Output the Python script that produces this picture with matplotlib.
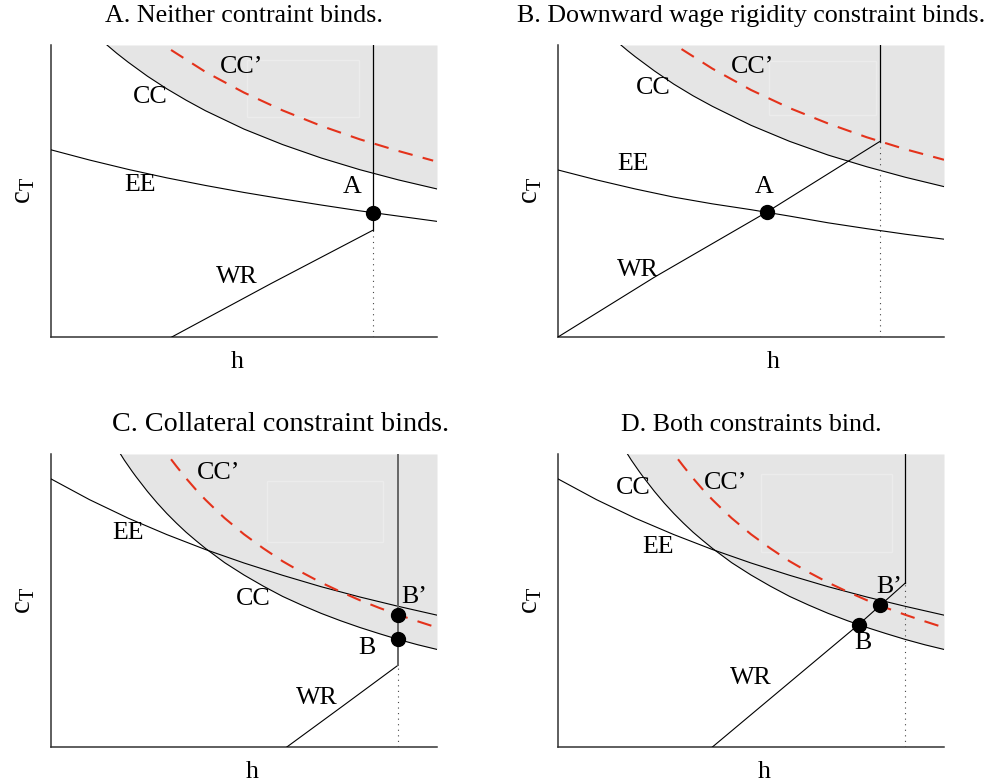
#! /usr/bin/env python

# Four-panel sketch of the (h, c_T) equilibrium diagram:
# CC / CC' collateral curves, EE equilibrium curve and WR wage rigidity curve.

import numpy as np
import matplotlib
matplotlib.use('Agg')
import matplotlib.pyplot as plt
from matplotlib.patches import Rectangle

plt.rcParams['font.family'] = ['Liberation Serif', 'DejaVu Serif']
plt.rcParams['mathtext.fontset'] = 'custom'
plt.rcParams['mathtext.rm'] = 'Liberation Serif'
plt.rcParams['mathtext.it'] = 'Liberation Serif'

# Panel A: neither constraint binds
cc_a_x = [0.145, 0.17, 0.2, 0.25, 0.3, 0.35, 0.4, 0.5, 0.6, 0.7, 0.8, 0.9, 1.0]
cc_a_y = [1.0, 0.972, 0.941, 0.893, 0.850, 0.811, 0.775, 0.712, 0.659, 0.613, 0.573, 0.538, 0.507]
ccp_a_x = [0.311, 0.4, 0.5, 0.6, 0.7, 0.8, 0.9, 0.99]
ccp_a_y = [0.983, 0.908, 0.837, 0.776, 0.723, 0.677, 0.637, 0.604]
ee_a_x = [0.0, 0.1, 0.2, 0.3, 0.4, 0.5, 0.6, 0.7, 0.8, 0.9, 1.0]
ee_a_y = [0.641, 0.606, 0.574, 0.545, 0.519, 0.495, 0.473, 0.452, 0.432, 0.414, 0.396]
wr_a_x = [0.313, 0.57, 0.833]
wr_a_y = [0.0, 0.183, 0.365]

# Panel B: downward wage rigidity binds
cc_b_x = [0.163, 0.18, 0.2, 0.25, 0.3, 0.35, 0.4, 0.5, 0.6, 0.7, 0.8, 0.9, 1.0]
cc_b_y = [1.0, 0.981, 0.960, 0.911, 0.866, 0.826, 0.790, 0.725, 0.670, 0.623, 0.583, 0.547, 0.515]
ccp_b_x = [0.32, 0.4, 0.5, 0.6, 0.7, 0.8, 0.9, 1.0]
ccp_b_y = [0.986, 0.919, 0.846, 0.784, 0.731, 0.684, 0.643, 0.607]
ee_b_x = [0.0, 0.1, 0.2, 0.3, 0.4, 0.5, 0.6, 0.7, 0.8, 0.9, 1.0]
ee_b_y = [0.572, 0.538, 0.507, 0.479, 0.456, 0.436, 0.414, 0.391, 0.371, 0.352, 0.335]
wr_b_x = [0.0, 0.25, 0.54, 0.833]
wr_b_y = [0.0, 0.205, 0.427, 0.669]

# Panels C and D share the steeper collateral curves and EE
cc_cd_x = [0.18, 0.19, 0.21, 0.22, 0.25, 0.275, 0.3, 0.325, 0.35, 0.375, 0.4, 0.45,
           0.5, 0.55, 0.6, 0.65, 0.7, 0.75, 0.8, 0.85, 0.9, 0.95, 1.0]
cc_cd_y = [1.0, 0.979, 0.941, 0.923, 0.872, 0.833, 0.797, 0.764, 0.733, 0.705, 0.678, 0.629,
           0.587, 0.549, 0.514, 0.484, 0.456, 0.431, 0.408, 0.387, 0.367, 0.349, 0.333]
ccp_cd_x = [0.311, 0.325, 0.35, 0.375, 0.4, 0.425, 0.45, 0.5, 0.55, 0.6, 0.65,
            0.7, 0.75, 0.8, 0.85, 0.9, 0.95, 0.99]
ccp_cd_y = [0.982, 0.958, 0.917, 0.879, 0.844, 0.812, 0.781, 0.726, 0.678, 0.634, 0.596,
            0.561, 0.530, 0.501, 0.475, 0.451, 0.429, 0.412]
ee_cd_x = [0.0, 0.1, 0.2, 0.3, 0.4, 0.5, 0.6, 0.7, 0.8, 0.9, 1.0]
ee_cd_y = [0.915, 0.844, 0.781, 0.725, 0.674, 0.628, 0.586, 0.547, 0.512, 0.480, 0.450]

# Panel C: collateral constraint binds
wr_c_x = [0.611, 0.755, 0.899]
wr_c_y = [0.0, 0.139, 0.279]

# Panel D: both constraints bind
wr_d_x = [0.40, 0.78, 0.90]
wr_d_y = [0.0, 0.419, 0.56]

dot_a_h = 0.833
dot_b_h = 0.541
dot_c_h = 0.899
dot_d_h = [0.78, 0.834]

titles = ['A. Neither contraint binds.',
          'B. Downward wage rigidity constraint binds.',
          'C. Collateral constraint binds.',
          'D. Both constraints bind.']

RED = '#e4321b'
GRAY = '#e5e5e5'
FS = 18.7


def draw_panel(ax, cc, ccp, ee, wr, box, vcolor='black'):
    ax.set_xlim(0, 1)
    ax.set_ylim(0, 1)
    ax.set_xticks([])
    ax.set_yticks([])
    for s in ['top', 'right']:
        ax.spines[s].set_visible(False)
    for s in ['left', 'bottom']:
        ax.spines[s].set_color('#333333')
        ax.spines[s].set_linewidth(1.1)

    # shaded region above the collateral constraint
    ax.fill_between(cc[0], cc[1], 1.0, color=GRAY, lw=0, zorder=0)
    ax.add_patch(Rectangle((box[0], box[2]), box[1] - box[0], box[3] - box[2],
                           fill=False, ec='#ececec', lw=1.0, zorder=1))

    ax.plot(cc[0], cc[1], color='black', lw=0.8, zorder=3)
    ax.plot(ee[0], ee[1], color='black', lw=0.8, zorder=3)
    ax.plot(wr[0], wr[1], color='black', lw=0.8, zorder=3)
    ax.plot(ccp[0], ccp[1], color=RED, lw=1.5, dashes=(7, 5), zorder=4)

    # h-bar: vertical part of WR, dotted below the kink
    hbar = wr[0][-1]
    ax.plot([hbar, hbar], [wr[1][-1], 1.0], color=vcolor,
            lw=0.9 if vcolor == 'black' else 1.4, zorder=3)
    ax.plot([hbar, hbar], [0, wr[1][-1]], color='#444444', lw=0.8,
            linestyle=(0, (1, 4)), zorder=3)

    ax.set_xlabel('h', fontsize=FS)
    ax.set_ylabel(r'$\mathregular{c_T}$', fontsize=FS + 2)


fig = plt.figure(figsize=(9.92, 7.83), dpi=100)
W, H = 992.0, 783.0
pos = [(51, 45), (558, 45), (51, 454), (558, 454)]
axes = []
for (l, t) in pos:
    b = 747 if t == 454 else 337
    axes.append(fig.add_axes([l / W, 1 - b / H, 386 / W, (b - t) / H]))
axA, axB, axC, axD = axes

draw_panel(axA, (cc_a_x, cc_a_y), (ccp_a_x, ccp_a_y), (ee_a_x, ee_a_y),
           (wr_a_x, wr_a_y), (0.508, 0.798, 0.753, 0.949))
draw_panel(axB, (cc_b_x, cc_b_y), (ccp_b_x, ccp_b_y), (ee_b_x, ee_b_y),
           (wr_b_x, wr_b_y), (0.547, 0.824, 0.760, 0.945))
draw_panel(axC, (cc_cd_x, cc_cd_y), (ccp_cd_x, ccp_cd_y), (ee_cd_x, ee_cd_y),
           (wr_c_x, wr_c_y), (0.56, 0.86, 0.70, 0.908), vcolor='#666666')
draw_panel(axD, (cc_cd_x, cc_cd_y), (ccp_cd_x, ccp_cd_y), (ee_cd_x, ee_cd_y),
           (wr_d_x, wr_d_y), (0.526, 0.865, 0.666, 0.932))

# equilibrium dots
dot = dict(marker='o', ms=10, color='black', zorder=6, ls='none')
axA.plot(dot_a_h, np.interp(dot_a_h, ee_a_x, ee_a_y), **dot)
axB.plot(dot_b_h, np.interp(dot_b_h, ee_b_x, ee_b_y), **dot)
axC.plot([dot_c_h, dot_c_h],
         [np.interp(dot_c_h, cc_cd_x, cc_cd_y), np.interp(dot_c_h, ccp_cd_x, ccp_cd_y)], **dot)
axD.plot(dot_d_h,
         [np.interp(dot_d_h[0], cc_cd_x, cc_cd_y), np.interp(dot_d_h[1], ccp_cd_x, ccp_cd_y)], **dot)

# curve labels
labels = {
    axA: [('CC’', 0.494, 0.924), ('CC', 0.258, 0.822), ('EE', 0.231, 0.521),
          ('A', 0.779, 0.513), ('WR', 0.481, 0.206)],
    axB: [('CC’', 0.505, 0.924), ('CC', 0.246, 0.853), ('EE', 0.194, 0.592),
          ('A', 0.534, 0.514), ('WR', 0.207, 0.229)],
    axC: [('CC’', 0.433, 0.935), ('EE', 0.199, 0.730), ('CC', 0.524, 0.505),
          ('B’', 0.940, 0.512), ('B', 0.818, 0.338), ('WR', 0.690, 0.167)],
    axD: [('CC', 0.194, 0.884), ('CC’', 0.435, 0.901), ('EE', 0.259, 0.683),
          ('B’', 0.858, 0.546), ('B', 0.790, 0.355), ('WR', 0.50, 0.236)],
}
for ax, items in labels.items():
    for txt, x, y in items:
        ax.text(x, y, txt, fontsize=FS, ha='center', va='center', zorder=7)

# titles, h labels and c_T labels placed per panel
title_x = [0.5, 0.5, 0.595, 0.5]
title_fs = [FS, FS, FS * 1.085, FS]
h_x = [0.482, 0.557, 0.52, 0.534]
for ax, t, tx, tfs, hx in zip(axes, titles, title_x, title_fs, h_x):
    bb = ax.get_position()
    hpx = bb.height * H
    ax.text(tx, 1 + 29 / hpx, t, transform=ax.transAxes, fontsize=tfs,
            ha='center', va='center')
    ax.xaxis.set_label_coords(hx, -25 / hpx)
    ax.xaxis.label.set_va('center')
    ax.yaxis.set_label_coords(-27 / 386, 0.5)
    ax.yaxis.label.set_va('center')

fig.savefig('out.png', dpi=100)
